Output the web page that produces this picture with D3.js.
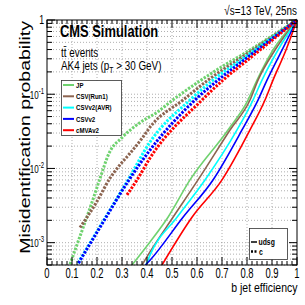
<!DOCTYPE html>
<html><head><meta charset="utf-8">
<script src="https://cdn.jsdelivr.net/npm/d3@7"></script>
<style>body{margin:0;background:#fff}svg{display:block}</style>
</head><body><svg id="c" width="305" height="305"></svg>
<script>
// ---- data ----
const algos = ["JP", "CSV(Run1)", "CSVv2(AVR)", "CSVv2", "cMVAv2"];
const colors = ["#6fd26f", "#8c6450", "#00ffff", "#0000ff", "#ff0000"];
// udsg (solid)
const effUdsgJP   = [0.34, 0.412, 0.484, 0.572, 0.724, 0.804, 0.84, 0.904, 1.0];
const misUdsgJP   = [5e-4, 1.02e-3, 2.2e-3, 7e-3, 0.033, 0.0835, 0.155, 0.394, 1.0];
const effUdsgCSV  = [0.38, 0.412, 0.504, 0.604, 0.732, 0.812, 0.844, 0.912, 1.0];
const misUdsgCSV  = [5e-4, 7.5e-4, 2.2e-3, 7e-3, 0.033, 0.0835, 0.155, 0.394, 1.0];
const effUdsgAVR  = [0.396, 0.412, 0.52, 0.632, 0.76, 0.824, 0.86, 0.924, 1.0];
const misUdsgAVR  = [5e-4, 6.8e-4, 2.2e-3, 7e-3, 0.033, 0.0835, 0.155, 0.394, 1.0];
const effUdsgCSV2 = [0.394, 0.412, 0.544, 0.664, 0.78, 0.844, 0.88, 0.94, 1.0];
const misUdsgCSV2 = [5e-4, 5.8e-4, 2.2e-3, 7e-3, 0.033, 0.0835, 0.155, 0.394, 1.0];
const effUdsgMVA  = [0.46, 0.58, 0.70, 0.812, 0.872, 0.904, 0.956, 1.0];
const misUdsgMVA  = [5e-4, 2.2e-3, 7e-3, 0.033, 0.0835, 0.155, 0.394, 1.0];
// c (dotted)
const effCJP   = [0.092, 0.12, 0.15, 0.18, 0.21, 0.25, 0.30, 0.37, 0.44, 0.50, 0.61, 0.70, 0.81, 0.90, 1.0];
const misCJP   = [5.1e-4, 9.4e-4, 1.8e-3, 3.5e-3, 7.0e-3, 0.0165, 0.026, 0.041, 0.057, 0.082, 0.15, 0.235, 0.39, 0.61, 1.0];
const effCCSV  = [0.132, 0.16, 0.2, 0.252, 0.29, 0.332, 0.384, 0.412, 0.544, 0.644, 0.8, 1.0];
const misCCSV  = [1.6e-3, 2.2e-3, 3.6e-3, 7.4e-3, 0.011, 0.016, 0.0265, 0.036, 0.0835, 0.155, 0.35, 1.0];
const effCAVR  = [0.124, 0.212, 0.324, 0.412, 0.572, 0.664, 0.8, 1.0];
const misCAVR  = [5.3e-4, 1.65e-3, 7e-3, 0.0227, 0.0835, 0.155, 0.33, 1.0];
const effCCSV2 = [0.126, 0.214, 0.328, 0.412, 0.592, 0.684, 0.8, 1.0];
const misCCSV2 = [5.3e-4, 1.65e-3, 7e-3, 0.0177, 0.0835, 0.155, 0.31, 1.0];
const effCMVA  = [0.32, 0.36, 0.412, 0.62, 0.704, 0.8, 1.0];
const misCMVA  = [4.4e-3, 7e-3, 0.0138, 0.0835, 0.155, 0.284, 1.0];

const xTicks = [0, 0.1, 0.2, 0.3, 0.4, 0.5, 0.6, 0.7, 0.8, 0.9, 1];
const xTickLabels = ["0", "0.1", "0.2", "0.3", "0.4", "0.5", "0.6", "0.7", "0.8", "0.9", "1"];
const yDecades = [1e-3, 1e-2, 1e-1, 1];
const yExp = ["-3", "-2", "-1", ""];

const udsgSeries = [
  [effUdsgJP, misUdsgJP], [effUdsgCSV, misUdsgCSV], [effUdsgAVR, misUdsgAVR],
  [effUdsgCSV2, misUdsgCSV2], [effUdsgMVA, misUdsgMVA]];
const cSeries = [
  [effCJP, misCJP], [effCCSV, misCCSV], [effCAVR, misCAVR],
  [effCCSV2, misCCSV2], [effCMVA, misCMVA]];

// ---- drawing ----
const svg = d3.select("#c");
const L = 47, R = 297, T = 20, B = 265;
const x = d3.scaleLinear().domain([0, 1]).range([L, R]);
const y = d3.scaleLog().domain([5e-4, 1]).range([B, T]);
const FONT = "'Liberation Sans', Arial, Helvetica, sans-serif";
const SX = 0.76;

function txt(px, py, s, size, weight, anchor, sx) {
  return svg.append("text")
    .attr("transform", `translate(${px},${py}) scale(${sx === undefined ? SX : sx},1)`)
    .attr("font-family", FONT).attr("font-size", size)
    .attr("font-weight", weight || "normal")
    .attr("text-anchor", anchor || "start").attr("fill", "#000").text(s);
}

svg.append("rect").attr("width", 305).attr("height", 305).attr("fill", "#fff");

// grid
const grid = svg.append("g").attr("stroke", "#9a9a9a").attr("stroke-width", 0.8)
  .attr("stroke-dasharray", "1,2");
xTicks.slice(1, -1).forEach(v => grid.append("line")
  .attr("x1", x(v)).attr("x2", x(v)).attr("y1", T).attr("y2", B));
const yMinor = [];
[1e-4, 1e-3, 1e-2, 1e-1].forEach(d => { for (let k = 1; k <= 9; k++) { const v = d * k; if (v >= 5e-4 && v < 1) yMinor.push(v); } });
yMinor.forEach(v => grid.append("line")
  .attr("x1", L).attr("x2", R).attr("y1", y(v)).attr("y2", y(v)));

// curves
svg.append("clipPath").attr("id", "clip").append("rect")
  .attr("x", L).attr("y", T - 2).attr("width", R - L + 2).attr("height", B - T + 2);
const line = d3.line().x(d => x(d[0])).y(d => y(d[1])).curve(d3.curveMonotoneX);
const curves = svg.append("g").attr("clip-path", "url(#clip)").attr("fill", "none");
udsgSeries.forEach((s, i) => curves.append("path")
  .attr("d", line(d3.zip(s[0], s[1]))).attr("stroke", colors[i]).attr("stroke-width", 1.6));
cSeries.forEach((s, i) => curves.append("path")
  .attr("d", line(d3.zip(s[0], s[1]))).attr("stroke", colors[i]).attr("stroke-width", 3)
  .attr("stroke-dasharray", "2.4,1.4"));

// frame & ticks
const fr = svg.append("g").attr("stroke", "#000").attr("stroke-width", 1).attr("fill", "none");
fr.append("rect").attr("x", L).attr("y", T).attr("width", R - L).attr("height", B - T);
d3.range(0, 1.0001, 0.02).forEach((v, i) => {
  const len = (i % 5 === 0) ? 8 : 4;
  fr.append("line").attr("x1", x(v)).attr("x2", x(v)).attr("y1", B).attr("y2", B - len);
  fr.append("line").attr("x1", x(v)).attr("x2", x(v)).attr("y1", T).attr("y2", T + len);
});
yMinor.concat([1]).forEach(v => {
  const major = Math.abs(Math.log10(v) - Math.round(Math.log10(v))) < 1e-9;
  const len = major ? 8 : 5;
  fr.append("line").attr("x1", L).attr("x2", L + len).attr("y1", y(v)).attr("y2", y(v));
  fr.append("line").attr("x1", R).attr("x2", R - len).attr("y1", y(v)).attr("y2", y(v));
});

// tick labels
xTicks.forEach((v, i) => txt(x(v), 278, xTickLabels[i], 15, "normal", "middle", 0.63));
yDecades.forEach((v, i) => {
  if (yExp[i] === "") { txt(44, y(v) + 4, "1", 12.5, "normal", "end", 0.7); return; }
  const t = txt(44, y(v) + 4.5, "", 11.5, "normal", "end", 0.7);
  t.append("tspan").text("10");
  t.append("tspan").attr("dy", -5).attr("font-size", 8.5).text(yExp[i]);
});

// axis titles
txt(297.5, 292, "b jet efficiency", 12.5, "normal", "end", 0.84);
svg.append("text").attr("transform", "translate(29.5,21) rotate(-90) scale(1,0.75)")
  .attr("font-family", FONT).attr("font-size", 19.5).attr("text-anchor", "end")
  .text("Misidentification probability");

// header texts
txt(60, 37, "CMS Simulation", 17, "bold");
txt(61, 57, "t\u0074\u0304 events", 13);
const ak = txt(61, 70, "", 13);
ak.append("tspan").text("AK4 jets (p");
ak.append("tspan").attr("font-size", 9).attr("dy", 3).text("T");
ak.append("tspan").attr("dy", -3).text(" > 30 GeV)");
txt(297, 15, "\u221As=13 TeV, 25ns", 13, "normal", "end");

// legend 1 (algorithms)
const lg1y = [85, 96.3, 107.6, 118.9, 130.2];
svg.append("rect").attr("x", 61.5).attr("y", 80.5).attr("width", 60).attr("height", 55)
  .attr("fill", "#fff").attr("stroke", "#333").attr("stroke-width", 0.8);
algos.forEach((a, i) => {
  svg.append("line").attr("x1", 63).attr("x2", 74).attr("y1", lg1y[i]).attr("y2", lg1y[i])
    .attr("stroke", colors[i]).attr("stroke-width", 2);
  txt(76, lg1y[i] + 2.8, a, 8, "bold");
});

// legend 2 (flavours)
const flav = ["udsg", "c"];
svg.append("rect").attr("x", 249.5).attr("y", 228.5).attr("width", 38).attr("height", 31)
  .attr("fill", "#fff").attr("stroke", "#333").attr("stroke-width", 0.8);
svg.append("line").attr("x1", 251).attr("x2", 257).attr("y1", 242).attr("y2", 242)
  .attr("stroke", "#000").attr("stroke-width", 1.5);
svg.append("line").attr("x1", 251).attr("x2", 257).attr("y1", 251.5).attr("y2", 251.5)
  .attr("stroke", "#000").attr("stroke-width", 2.5).attr("stroke-dasharray", "2,1.5");
txt(258.5, 244.5, flav[0], 9, "bold");
txt(259, 254.5, flav[1], 9, "bold");
</script></body></html>
